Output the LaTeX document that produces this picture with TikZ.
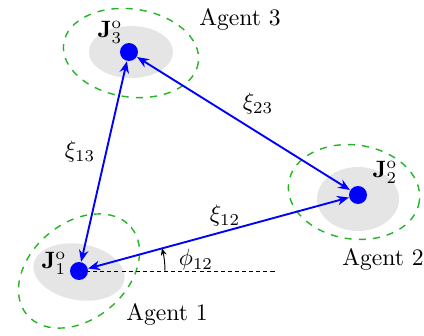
\documentclass[tikz,border=0pt]{standalone}
\usetikzlibrary{arrows.meta,calc}
\definecolor{agreen}{RGB}{40,180,40}
\begin{document}
\begin{tikzpicture}[x=0.423pt,y=-0.423pt,
  region/.style={fill=gray!20},
  reach/.style={draw=agreen,semithick,dashed},
  agentdot/.style={circle,fill=blue,minimum size=7.6pt,inner sep=0pt},
  link/.style={blue,thick,{Stealth[length=5pt,width=4pt]}-{Stealth[length=5pt,width=4pt]}},
  lbl/.style={inner sep=0pt}]
\useasboundingbox (0,0) rectangle (424,335);
% regions
\fill[region,rotate around={-10:(79,272)}] (79,272) ellipse [x radius=46, y radius=28];
\fill[region] (358,199) ellipse [x radius=41, y radius=32];
\fill[region] (131,52) ellipse [x radius=42, y radius=26];
% reach sets
\draw[reach,rotate around={40:(79,271)}] (79,271) ellipse [x radius=68, y radius=48];
\draw[reach,rotate around={-8:(354,192)}] (354,192) ellipse [x radius=66, y radius=47];
\draw[reach,rotate around={-8:(131,53)}] (131,53) ellipse [x radius=68, y radius=44];
% dashed reference line
\coordinate (dend) at (277,271);
\draw[dash pattern=on 1.7pt off 1.3pt,thin] (79,271) -- (dend);
% agents
\node[agentdot] (a1) at (79,271) {};
\node[agentdot] (a2) at (358,195) {};
\node[agentdot] (a3) at (129,52) {};
% links
\draw[link] (a1) -- (a2);
\draw[link] (a1) -- (a3);
\draw[link] (a3) -- (a2);
% angle
\draw[-{Stealth[length=3pt,width=2.5pt]}] ($(a1)+(86,0)$) arc (0:-15.3:86);
% labels
\node[lbl] (j1) at (54,263) {$\mathbf{J}_1^{\mathrm{o}}$};
\node[lbl] (j2) at (385,172) {$\mathbf{J}_2^{\mathrm{o}}$};
\node[lbl] (j3) at (110,32) {$\mathbf{J}_3^{\mathrm{o}}$};
\node[lbl] (n1) at (167,314) {Agent 1};
\node[lbl] (n2) at (383,259) {Agent 2};
\node[lbl] (n3) at (240,19) {Agent 3};
\node[lbl] (x12) at (225,216) {$\xi_{12}$};
\node[lbl] (x23) at (258,104) {$\xi_{23}$};
\node[lbl] (x13) at (80,152) {$\xi_{13}$};
\node[lbl] (p12) at (196,260) {$\phi_{12}$};
\end{tikzpicture}
\end{document}
